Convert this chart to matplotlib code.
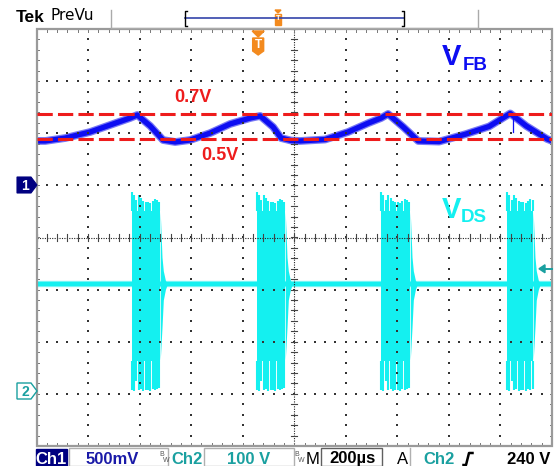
import matplotlib
matplotlib.use("Agg")
import matplotlib.pyplot as plt
from matplotlib.patches import Polygon, Rectangle
import numpy as np

# ---------------- data ----------------
TIME_PER_DIV_US = 200
SCREEN_CENTER_US = 140          # trigger point is t = 0
CH1_VOLTS_PER_DIV = 0.5
CH1_POS_DIV = 1.0
CH2_VOLTS_PER_DIV = 100
CH2_POS_DIV = -3.0

# V_FB trace (channel 1)
vfb_t_us = [-857, -826, -749, -652, -563, -497, -469, -419, -369, -322, -264,
            -186, -109, -31, 8, 58, 89, 128, 163, 260, 349, 427, 477, 504,
            563, 621, 702, 807, 896, 978, 1040, 1121, 1141]
vfb_v = [0.426, 0.426, 0.454, 0.512, 0.589, 0.646, 0.675, 0.570, 0.435, 0.416,
         0.435, 0.502, 0.589, 0.646, 0.666, 0.560, 0.454, 0.430, 0.426, 0.440,
         0.512, 0.597, 0.646, 0.685, 0.560, 0.426, 0.420, 0.493, 0.565, 0.690,
         0.570, 0.445, 0.426]
vfb_glitch_t_us = 987
vfb_glitch_v = [0.67, 0.51]

ref_levels_v = [0.685, 0.445]
ref_labels = ["0.7V", "0.5V"]

# V_DS trace (channel 2)
vds_baseline_v = 211
burst_start_us = [-491, -6, 477, 965]
burst_len_us = [111, 111, 113, 102]
burst_fill_top_v = 350
burst_fill_bottom_v = 63
spike_offset_us = [0, 9, 18, 28, 37, 46, 55, 64, 73, 82, 91, 100, 108]
spike_top_v = [388, 381, 372, 381, 376, 370, 368, 368, 366, 370, 374, 372, 369]
spike_bottom_v = [8, 6, 25, 8, 10, 6, 8, 7, 6, 10, 8, 9, 12]
tail_offset_us = [0, 7, 12, 20, 28]
tail_top_v = [350, 262, 236, 218, 211]
tail_bottom_v = [63, 128, 180, 200, 211]

trigger_level_v = 240

# ---------------- helpers ----------------
def tx(t):
    return (np.asarray(t, float) - SCREEN_CENTER_US) / TIME_PER_DIV_US

def y1(v):
    return CH1_POS_DIV + np.asarray(v, float) / CH1_VOLTS_PER_DIV

def y2(v):
    return CH2_POS_DIV + np.asarray(v, float) / CH2_VOLTS_PER_DIV

W, H = 556, 466
fig = plt.figure(figsize=(W / 100, H / 100), dpi=100)
fig.patch.set_facecolor("white")

L, R, T, B = 36.5, 552, 29, 446
ax = fig.add_axes([L / W, 1 - B / H, (R - L) / W, (B - T) / H])
ax.set_xlim(-5, 5)
ax.set_ylim(-4, 4)
ax.axis("off")

VFB_COL = "#0d0df2"
VDS_COL = "#14f0f0"
TEAL = "#1aa0a0"
NAVY = "#000080"
RED = "#ee1c1c"
ORANGE = "#f38a1e"

# ---- V_DS ----
ax.plot([-5, 5], [y2(vds_baseline_v)] * 2, color="#8ff7f7", lw=4.6, zorder=3,
        solid_capstyle="butt")
ax.plot([-5, 5], [y2(vds_baseline_v)] * 2, color=VDS_COL, lw=3.2, zorder=3,
        solid_capstyle="butt")
for s, d in zip(burst_start_us, burst_len_us):
    ax.fill_between(tx([s, s + d]), y2(burst_fill_bottom_v), y2(burst_fill_top_v),
                    color=VDS_COL, lw=0, zorder=3)
    for off, top, bot in zip(spike_offset_us, spike_top_v, spike_bottom_v):
        if off <= d:
            xx = tx(s + off)
            ax.plot([xx, xx], [y2(burst_fill_top_v), y2(top)], color=VDS_COL,
                    lw=1.5, zorder=3, solid_capstyle="butt")
            ax.plot([xx, xx], [y2(bot), y2(burst_fill_bottom_v)], color=VDS_COL,
                    lw=1.5, zorder=3, solid_capstyle="butt")
    tt = tx(np.array(tail_offset_us) + s + d)
    ax.fill_between(tt, y2(tail_bottom_v), y2(tail_top_v), color=VDS_COL,
                    lw=0, zorder=3)

# ---- V_FB ----
ax.plot(tx(vfb_t_us), y1(vfb_v), color="#7878f5", lw=5.6, zorder=4,
        solid_joinstyle="round")
ax.plot(tx(vfb_t_us), y1(vfb_v), color=VFB_COL, lw=3.8, zorder=4,
        solid_joinstyle="round")
ax.plot([tx(vfb_glitch_t_us)] * 2, y1(vfb_glitch_v), color=VFB_COL, lw=0.9,
        zorder=4)

# ---- graticule ----
minor = np.arange(-5, 5.001, 0.2)
minor_y = np.arange(-4, 4.001, 0.2)
gx, gy = [], []
for xv in range(-4, 5):
    if xv == 0:
        continue
    gx += [xv] * len(minor_y)
    gy += list(minor_y)
for yv in range(-3, 4):
    if yv == 0:
        continue
    gx += list(minor)
    gy += [yv] * len(minor)
ax.scatter(gx, gy, s=1.3, marker="s", color="#333333", linewidths=0, zorder=5)

ax.plot([-5, 5], [0, 0], color="#222222", lw=0.8, ls=(0, (1, 1.2)), zorder=5)
ax.plot([0, 0], [-4, 4], color="#222222", lw=0.8, ls=(0, (1, 1.2)), zorder=5)
tk = 0.07
for xv in minor:
    ax.plot([xv, xv], [-tk, tk], color="#444444", lw=0.8, zorder=5)
for yv in minor_y:
    ax.plot([-tk * 0.8, tk * 0.8], [yv, yv], color="#444444", lw=0.8, zorder=5)

# border with inner ticks
bt = 0.06
for xv in minor:
    ax.plot([xv, xv], [4, 4 - bt], color="#777777", lw=0.7, zorder=5)
    ax.plot([xv, xv], [-4, -4 + bt], color="#777777", lw=0.7, zorder=5)
for yv in minor_y:
    ax.plot([-5, -5 + bt * 0.8], [yv, yv], color="#777777", lw=0.7, zorder=5)
    ax.plot([5, 5 - bt * 0.8], [yv, yv], color="#777777", lw=0.7, zorder=5)
ax.add_patch(Rectangle((-5, -4), 10, 8, fill=False, ec="#9a9a9a", lw=1.6,
                       zorder=6, clip_on=False))

# ---- reference dashed lines ----
for lv in ref_levels_v:
    ax.plot([-5, 5], [y1(lv)] * 2, color=RED, lw=2.2, dashes=(5, 1.7), zorder=6)

# ---------------- overlay (pixel coordinates) ----------------
ov = fig.add_axes([0, 0, 1, 1])
ov.set_xlim(0, W)
ov.set_ylim(H, 0)
ov.axis("off")
ov.patch.set_alpha(0)

SANS = "Liberation Sans"

# ref labels
ov.text(193, 97, ref_labels[0], color=RED, fontsize=13, fontweight="bold",
        family=SANS, ha="center", va="center")
ov.text(220, 156, ref_labels[1], color=RED, fontsize=13, fontweight="bold",
        family=SANS, ha="center", va="center")

# trace labels
ov.text(442, 65, "V", color=VFB_COL, fontsize=21, fontweight="bold", family=SANS,
        ha="left", va="baseline")
ov.text(463, 70, "FB", color=VFB_COL, fontsize=13.5, fontweight="bold",
        family=SANS, ha="left", va="baseline")
ov.text(442, 218, "V", color=VDS_COL, fontsize=21, fontweight="bold", family=SANS,
        ha="left", va="baseline")
ov.text(461, 222, "DS", color=VDS_COL, fontsize=13.5, fontweight="bold",
        family=SANS, ha="left", va="baseline")

# channel markers
ov.add_patch(Polygon([(17, 177), (31, 177), (37, 185), (31, 193), (17, 193)],
                     closed=True, fc=NAVY, ec=NAVY, lw=0.8))
ov.text(25, 185.5, "1", color="white", fontsize=10, fontweight="bold",
        family=SANS, ha="center", va="center")
ov.add_patch(Polygon([(17, 383), (31, 383), (37, 391), (31, 399), (17, 399)],
                     closed=True, fc="white", ec=TEAL, lw=1.0))
ov.text(25, 391.5, "2", color=TEAL, fontsize=10, fontweight="bold",
        family=SANS, ha="center", va="center")

# trigger level arrow (right)
ty = T + (4 - y2(trigger_level_v)) * (B - T) / 8
ov.plot([544, 552], [ty, ty], color=TEAL, lw=1.4)
ov.add_patch(Polygon([(539, ty), (545, ty - 4), (545, ty + 4)], closed=True,
                     fc=TEAL, ec=TEAL))

# trigger position marker (top)
trig_x = L + (tx(0) + 5) * (R - L) / 10
ov.add_patch(Polygon([(trig_x - 6, 31), (trig_x + 6, 31), (trig_x, 37)],
                     closed=True, fc=ORANGE, ec=ORANGE))
ov.add_patch(Polygon([(trig_x - 5.5, 38), (trig_x + 5.5, 38), (trig_x + 5.5, 51),
                      (trig_x, 55), (trig_x - 5.5, 51)], closed=True, fc=ORANGE,
                     ec=ORANGE))
ov.text(trig_x, 45.5, "T", color="white", fontsize=8.5, fontweight="bold",
        family=SANS, ha="center", va="center")

# header
ov.text(16, 17, "Tek", color="black", fontsize=12.5, fontweight="bold",
        family=SANS, ha="left", va="center")
ov.text(51, 16, "PreVu", color="black", fontsize=11, family="DejaVu Sans",
        ha="left", va="center")
ov.plot([110.5, 110.5], [10, 28], color="#aaaaaa", lw=1)
ov.plot([478, 478], [10, 28], color="#aaaaaa", lw=1)
ov.plot([110.5, 478], [27.5, 27.5], color="#aaaaaa", lw=1)
ov.plot([185, 404], [18, 18], color="#3344aa", lw=1.2)
ov.plot([187, 185, 185, 187], [11, 11, 26, 26], color="black", lw=1)
ov.plot([402, 404, 404, 402], [11, 11, 26, 26], color="black", lw=1)
ov.add_patch(Polygon([(275, 10), (281, 10), (278, 13)], closed=True,
                     fc=ORANGE, ec=ORANGE))
ov.add_patch(Rectangle((275, 13.5), 6, 11, fc=ORANGE, ec=ORANGE))
ov.text(278, 19, "T", color="white", fontsize=5.5, fontweight="bold",
        family=SANS, ha="center", va="center")

# status bar
SB_Y = 459
ov.add_patch(Rectangle((35.5, 449), 31.5, 17, fc=NAVY, ec=NAVY))
ov.text(51, SB_Y, "Ch1", color="white", fontsize=12, fontweight="bold",
        family=SANS, ha="center", va="center")
ov.add_patch(Rectangle((69, 448), 99, 18, fill=False, ec="#b0b0b0", lw=1))
ov.text(112, SB_Y, "500mV", color="#1a1aa8", fontsize=12, fontweight="bold",
        family=SANS, ha="center", va="center")
ov.text(159.5, 455, "B", color="#555555", fontsize=5, family=SANS,
        ha="left", va="center")
ov.text(163, 461, "W", color="#555555", fontsize=5, family=SANS,
        ha="left", va="center")
ov.text(187, SB_Y, "Ch2", color=TEAL, fontsize=12, fontweight="bold",
        family=SANS, ha="center", va="center")
ov.add_patch(Rectangle((204, 448), 90, 18, fill=False, ec="#b0b0b0", lw=1))
ov.text(249, SB_Y, "100 V", color=TEAL, fontsize=12, fontweight="bold",
        family=SANS, ha="center", va="center")
ov.text(294.5, 455, "B", color="#555555", fontsize=5, family=SANS,
        ha="left", va="center")
ov.text(298, 461, "W", color="#555555", fontsize=5, family=SANS,
        ha="left", va="center")
ov.text(313, SB_Y, "M", color="black", fontsize=12, family=SANS,
        ha="center", va="center")
ov.add_patch(Rectangle((321, 448), 61, 18, fill=False, ec="#606060", lw=1))
ov.text(352, SB_Y, "200µs", color="black", fontsize=12, fontweight="bold",
        family=SANS, ha="center", va="center")
ov.text(402.5, SB_Y, "A", color="black", fontsize=12, family=SANS,
        ha="center", va="center")
ov.plot([410, 410], [448, 466], color="#b0b0b0", lw=1)
ov.text(439, SB_Y, "Ch2", color=TEAL, fontsize=12, fontweight="bold",
        family=SANS, ha="center", va="center")
ov.plot([463.5, 466, 469, 472.5], [465, 465, 453, 453], color="black", lw=1.8)
ov.text(529, SB_Y, "240 V", color="black", fontsize=12, fontweight="bold",
        family=SANS, ha="center", va="center")

fig.savefig("out.png", dpi=100)
